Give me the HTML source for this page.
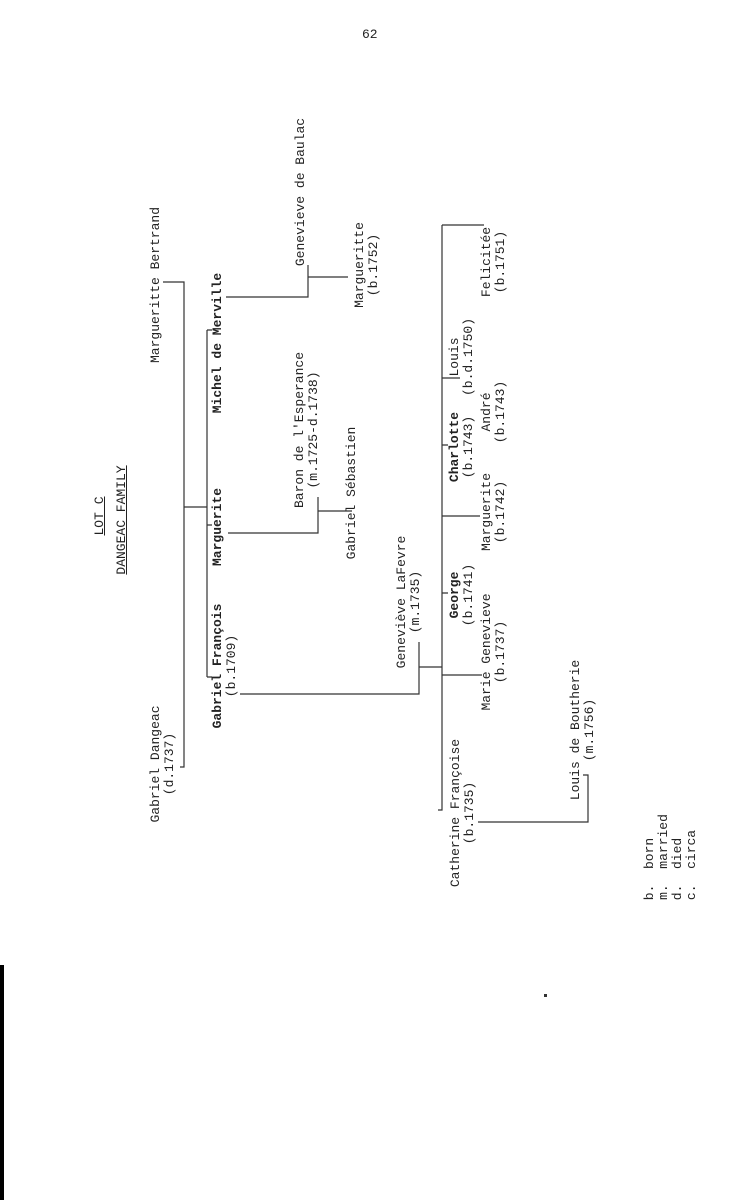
<!DOCTYPE html>
<html><head><meta charset="utf-8"><style>
html,body{margin:0;padding:0;background:#fff;}
body{width:745px;height:1200px;position:relative;overflow:hidden;font-family:"Liberation Mono",monospace;color:#222;font-size:13px;}
.r{position:absolute;transform:translate(-50%,-50%) rotate(-90deg);white-space:pre;text-align:center;line-height:14px;}
.b{font-weight:bold;}
.u{text-decoration:underline;}
svg{position:absolute;left:0;top:0;}
</style></head><body>
<div style="position:absolute;left:362px;top:27px;font-size:13px;">62</div>
<svg width="745" height="1200" fill="none" stroke="#333" stroke-width="1.2">
<path d="M163 282H184V767H180"/>
<path d="M184 507H207"/>
<path d="M207 330V677"/>
<path d="M207 330H212M207 525H212M207 677H212"/>
<path d="M226 297H308V265M308 277H348"/>
<path d="M228 533H318V497M318 511H352"/>
<path d="M240 694H419V642M419 667H442"/>
<path d="M442 225V810H438"/>
<path d="M442 225H484M442 378H460M442 445H448M442 516H480M442 593H448M442 675H482"/>
<path d="M478 822H588V775H583"/>
</svg>
<div class="r u" style="left:100px;top:516px;">LOT C</div>
<div class="r u" style="left:122px;top:520px;">DANGEAC FAMILY</div>
<div class="r" style="left:156px;top:285px;">Margueritte Bertrand</div>
<div class="r" style="left:163px;top:764px;">Gabriel Dangeac
(d.1737)</div>
<div class="r b" style="left:218px;top:343px;">Michel de Merville</div>
<div class="r b" style="left:218px;top:527px;">Marguerite</div>
<div class="r" style="left:225px;top:666px;"><b>Gabriel François</b>
(b.1709)</div>
<div class="r" style="left:301px;top:192px;">Genevieve de Baulac</div>
<div class="r" style="left:367px;top:265px;">Margueritte
(b.1752)</div>
<div class="r" style="left:307px;top:430px;">Baron de l'Esperance
(m.1725-d.1738)</div>
<div class="r" style="left:352px;top:493px;">Gabriel Sébastien</div>
<div class="r" style="left:409px;top:602px;">Geneviève LaFevre
(m.1735)</div>
<div class="r" style="left:494px;top:262px;">Felicitée
(b.1751)</div>
<div class="r" style="left:462px;top:357px;">Louis
(b.d.1750)</div>
<div class="r" style="left:494px;top:412px;">André
(b.1743)</div>
<div class="r" style="left:462px;top:447px;"><b>Charlotte</b>
(b.1743)</div>
<div class="r" style="left:494px;top:512px;">Marguerite
(b.1742)</div>
<div class="r" style="left:462px;top:595px;"><b>George</b>
(b.1741)</div>
<div class="r" style="left:494px;top:652px;">Marie Genevieve
(b.1737)</div>
<div class="r" style="left:463px;top:813px;">Catherine Françoise
(b.1735)</div>
<div class="r" style="left:583px;top:730px;">Louis de Boutherie
(m.1756)</div>
<div class="r" style="left:650px;top:869px;">b.  born</div>
<div class="r" style="left:664px;top:857px;">m.  married</div>
<div class="r" style="left:678px;top:869px;">d.  died</div>
<div class="r" style="left:692px;top:865px;">c.  circa</div>
<div style="position:absolute;left:0;top:965px;width:4px;height:235px;background:#000;"></div>
<div style="position:absolute;left:544px;top:994px;width:3px;height:3px;background:#333;"></div>
</body></html>
